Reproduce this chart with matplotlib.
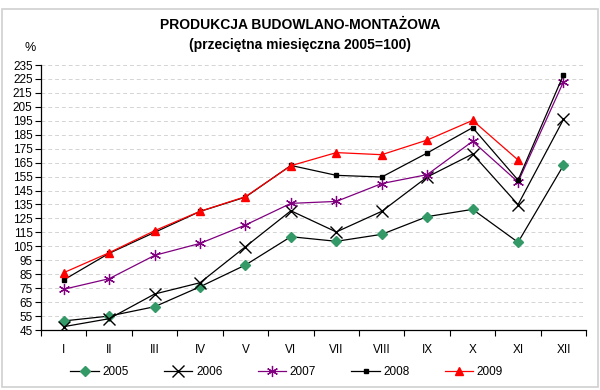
import matplotlib
matplotlib.use("Agg")
import matplotlib.pyplot as plt
from matplotlib.patches import Rectangle
import numpy as np

plt.rcParams['font.family'] = ['Liberation Sans', 'DejaVu Sans']

months = ["I", "II", "III", "IV", "V", "VI", "VII", "VIII", "IX", "X", "XI", "XII"]
s2005 = [51.5, 55.0, 61.7, 76.0, 91.6, 111.9, 108.6, 113.6, 126.3, 131.5, 107.9, 163.1]
s2006 = [47.4, 53.1, 70.8, 78.9, 104.7, 130.5, 115.3, 130.1, 154.7, 171.2, 134.9, 196.0]
s2007 = [74.2, 81.8, 98.5, 107.1, 120.3, 135.8, 137.2, 150.0, 156.4, 180.3, 151.1, 223.0]
s2008 = [80.9, 100.0, 115.0, 130.0, 140.3, 163.0, 155.9, 154.7, 171.9, 190.1, 152.5, 228.0]
s2009 = [86.1, 100.4, 116.2, 130.1, 140.6, 162.8, 172.2, 170.7, 181.2, 195.3, 166.9]
yticks = list(range(45, 236, 10))

fig = plt.figure(figsize=(6, 3.9), dpi=100)
fig.patches.append(Rectangle((0.004, 0.008), 0.992, 0.968, transform=fig.transFigure,
                             fill=False, edgecolor='#d0d0d0', linewidth=1.2))
ax = fig.add_axes([0.0683, 0.1538, 0.9087, 0.6795])

x = np.arange(len(months))
ax.plot(x, s2005, color='black', lw=0.9, marker='D', ms=5.5, mfc='#339966', mec='#339966', label='2005', zorder=3)
ax.plot(x, s2006, color='black', lw=0.9, marker='x', ms=8, mew=1.0, label='2006', zorder=3)
ax.plot(x, s2007, color='#800080', lw=0.9, marker=(6, 2, 0), ms=8, mew=0.9, label='2007', zorder=3)
ax.plot(x, s2008, color='black', lw=0.9, marker='s', ms=3, label='2008', zorder=4)
ax.plot(np.arange(len(s2009)), s2009, color='#ff0000', lw=0.9, marker='^', ms=5.5, label='2009', zorder=5)

ax.set_xlim(-0.5, 11.5)
ax.set_ylim(45, 235)
ax.set_yticks(yticks)
ax.set_yticklabels([str(v) for v in yticks], fontsize=8.5)
ax.set_xticks(np.arange(-0.5, 12, 1))
ax.set_xticklabels([])
ax.set_xticks(x, minor=True)
ax.set_xticklabels(months, minor=True, fontsize=8.5)
ax.tick_params(axis='x', which='major', direction='out', length=4, width=0.8)
ax.tick_params(axis='x', which='minor', length=0, pad=10)
ax.tick_params(axis='y', direction='out', length=4, width=0.8, pad=2)
ax.yaxis.grid(True, linestyle=(0, (4, 3)), color='#d4d4d4', linewidth=0.7)
ax.set_axisbelow(True)
for side in ['top', 'right']:
    ax.spines[side].set_visible(False)
ax.spines['left'].set_linewidth(0.9)
ax.spines['bottom'].set_linewidth(0.9)

fig.text(0.5, 0.935, "PRODUKCJA BUDOWLANO-MONTAŻOWA", ha='center', va='center',
         fontsize=10, fontweight='bold')
fig.text(0.5, 0.885, "(przeciętna miesięczna 2005=100)", ha='center', va='center',
         fontsize=10, fontweight='bold')
fig.text(0.05, 0.878, "%", ha='center', va='center', fontsize=9)

fig.legend(loc='center', bbox_to_anchor=(0.478, 0.046), ncol=5, frameon=False,
           fontsize=8.5, handlelength=2.4, columnspacing=3.0, handletextpad=0.3)

fig.savefig("out.png", dpi=100)
